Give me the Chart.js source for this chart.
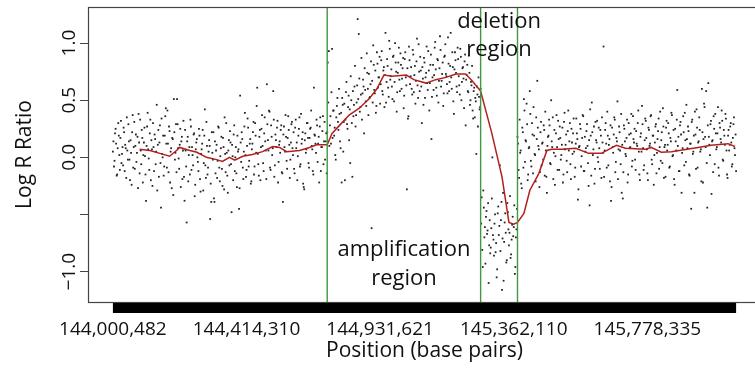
<!DOCTYPE html>
<html>
<head>
<meta charset="utf-8">
<script src="https://cdn.jsdelivr.net/npm/chart.js@4.4.0/dist/chart.umd.min.js"></script>
<style>
  html, body { margin: 0; padding: 0; background: #fff; overflow: hidden; }
</style>
</head>
<body>
<canvas id="lrrChart" width="765" height="375"></canvas>
<script>
// x axis is the probe index, labelled with genomic positions
var xTickIdx = [0, 250, 500, 750, 1000];
var xTickLabels = ["144,000,482", "144,414,310", "144,931,621", "145,362,110", "145,778,335"];
var yTickVals = [-1, -0.5, 0, 0.5, 1];
var yTickLabels = ["\u22121.0", "", "0.0", "0.5", "1.0"];

var lastProbe = 1166;
// breakpoints (probe index) of the amplified and deleted regions
var regionBounds = [401, 688, 757];

// log R ratio of the even-numbered probes
var normalLeft = [
  0.05, -0.08, 0.21, 0.12, -0.15, 0.30, 0.02, 0.17, -0.05, 0.09,
  0.26, -0.12, 0.08, 0.35, -0.02, 0.14, -0.20, 0.04, 0.22, -0.09,
  0.31, 0.10, -0.04, 0.18, 0.38, -0.14, 0.06, 0.24, -0.22, 0.13,
  0.01, -0.38, 0.27, 0.07, -0.11, 0.33, 0.15, -0.25, 0.09, 0.20,
  -0.06, 0.46, 0.11, -0.17, 0.28, -0.44, 0.03, 0.19, -0.08, 0.36,
  0.12, 0.41, -0.13, 0.23, 0.05, -0.27, 0.16, 0.51, -0.02, 0.29,
  0.51, 0.08, -0.10, 0.25, 0.14, -0.19, 0.32, -0.38, 0.06, -0.57,
  0.18, 0.02, -0.15, 0.27, 0.09, -0.07, 0.21, -0.24, 0.13, 0.00,
  -0.12, 0.19, -0.30, 0.07, 0.24, -0.05, 0.42, -0.18, 0.10, -0.09,
  0.15, -0.54, -0.39, 0.04, 0.22, -0.39, -0.14, 0.11, -0.03, 0.26,
  -0.21, 0.08, -0.10, 0.17, -0.28, 0.03, 0.30, -0.16, 0.06, -0.07,
  0.13, -0.48, 0.01, 0.20, -0.12, 0.09, -0.26, 0.05, -0.45, 0.54,
  -0.04, 0.16, -0.19, 0.27, 0.02, -0.11, 0.34, -0.08, 0.12, -0.23,
  0.07, 0.22, -0.15, 0.30, 0.04, 0.61, -0.06, 0.18, -0.20, 0.25,
  0.10, -0.12, 0.35, 0.06, 0.64, 0.15, 0.41, -0.09, 0.28, 0.02,
  0.58, -0.17, 0.20, 0.09, 0.32, -0.04, 0.14, 0.24, -0.13, -0.39,
  0.27, 0.05, 0.18, -0.10, 0.36, 0.11, -0.02, 0.29, 0.08, 0.22,
  -0.14, 0.33, 0.13, 0.01, 0.25, -0.08, 0.38, 0.16, -0.23, -0.28,
  0.21, 0.07, 0.30, -0.05, 0.17, 0.26, 0.10, -0.12, 0.61, 0.19,
  0.04, 0.28, 0.12, -0.22, 0.35, 0.09, 0.23, -0.06, 0.31, 0.14,
  -0.14
];
var amplified = [
  0.83, 0.93, 0.28, 0.12, 0.95, 0.41, 0.19, 0.02, 0.35, 0.52,
  0.24, 0.38, 0.08, -0.22, 0.46, 0.31, -0.20, 0.57, 0.29, 0.44,
  0.15, -0.05, 0.50, -0.17, 0.36, 0.62, 0.27, 0.48, 1.21, 1.08,
  0.40, 0.55, 0.33, 0.68, 0.21, 0.59, 0.45, 0.74, 0.37, 0.52,
  0.64, -0.62, 0.48, 0.81, 0.56, 0.39, 0.92, 0.61, 0.70, 0.47,
  0.85, 0.58, 0.76, 0.44, 1.09, 0.66, 0.80, 0.53, 0.95, 0.71,
  0.62, 0.88, 0.49, 1.00, 0.75, 0.57, 0.83, 0.68, 0.91, 0.60,
  0.78, 0.43, 0.86, 0.70, -0.28, 0.34, 0.97, 0.64, 0.79, 0.55,
  0.90, 0.72, 0.47, 0.84, 0.63, 0.99, 0.58, 0.76, 0.30, 0.69,
  0.87, 0.52, 0.74, 0.65, 0.93, 0.41, 0.81, 0.16, 0.70, 0.59,
  0.96, 0.77, 0.54, 0.85, 0.67, 1.06, 0.62, 0.73, 0.45, 0.88,
  0.99, 0.71, 0.56, 0.82, 0.66, 1.09, 0.60, 0.79, 0.38, 0.92,
  0.74, 0.57, 0.86, 0.63, 0.95, 0.50, 0.78, 0.69, 0.84, 0.28,
  0.72, 0.58, 0.89, 0.46, 0.66, 0.80, 0.34, 0.61, 0.52, 0.03,
  0.55, 0.70, 0.42, 0.60
];
var deleted = [
  -0.35, -0.96, -0.44, -0.61, -0.52, -0.67, -0.40, -0.77, -0.84, -0.62,
  0.00, -0.72, -0.58, -0.83, -1.05, -0.49, -0.68, -0.07, -0.55, -1.16,
  -0.31, -0.74, -0.49, -0.92, -0.40, -0.63, -0.66, -0.88, -0.72, -0.52,
  -0.61, -1.02, -0.70, -0.45
];
var normalRight = [
  0.12, -0.18, 0.04, -0.23, 0.26, -0.09, 0.41, 0.15, 0.47, -0.20,
  0.08, 0.58, -0.03, 0.30, -0.14, 0.19, 0.02, 0.35, 0.67, 0.10,
  -0.26, 0.22, -0.07, 0.13, 0.28, -0.16, 0.06, -0.31, 0.18, 0.33,
  -0.05, 0.50, 0.09, -0.19, 0.24, 0.01, 0.37, -0.11, 0.16, 0.27,
  -0.02, 0.11, -0.22, 0.31, 0.07, 0.20, -0.13, 0.41, 0.14, -0.06,
  0.25, 0.03, 0.34, -0.17, 0.12, 0.21, -0.37, 0.09, 0.29, -0.08,
  0.17, 0.36, -0.12, 0.05, 0.23, 0.10, -0.25, -0.42, 0.19, 0.48,
  0.02, 0.27, -0.10, 0.15, 0.32, -0.04, 0.08, 0.24, -0.18, 0.13,
  0.97, 0.06, 0.30, -0.09, 0.19, 0.11, -0.21, -0.38, 0.26, 0.04,
  0.35, -0.13, 0.17, 0.49, 0.07, 0.22, -0.06, -0.31, -0.36, 0.28,
  0.14, 0.01, 0.33, -0.15, 0.20, 0.09, 0.38, -0.03, 0.16, 0.25,
  -0.11, 0.12, 0.30, 0.05, -0.20, 0.21, 0.45, 0.08, -0.07, 0.34,
  0.17, -0.14, 0.26, 0.10, 0.36, -0.02, 0.19, -0.24, 0.13, 0.29,
  0.04, 0.23, -0.10, 0.40, 0.15, -0.05, 0.27, 0.09, -0.17, 0.32,
  0.11, 0.21, -0.08, 0.14, 0.37, 0.02, -0.19, 0.25, 0.06, 0.59,
  0.18, -0.12, 0.31, -0.31, 0.08, 0.22, 0.39, -0.04, 0.16, 0.27,
  -0.15, 0.12, -0.45, 0.33, 0.05, -0.31, 0.20, 0.42, -0.09, 0.14,
  0.24, 0.07, 0.60, -0.22, 0.47, 0.18, 0.58, -0.44, 0.65, 0.11,
  0.29, -0.32, 0.15, 0.36, -0.06, 0.21, 0.09, 0.44, -0.16, 0.26,
  0.13, 0.32, -0.03, 0.19, 0.38, 0.06, -0.18, 0.24, 0.11, 0.30,
  -0.08, 0.17, 0.35, 0.02, -0.12
];

// log R ratio of the odd-numbered probes
var normalLeftOdd = [
  0.14, -0.03, 0.25, -0.16, 0.08, 0.19, -0.11, 0.32, 0.03, -0.07,
  0.22, 0.11, -0.18, 0.06, 0.29, -0.02, 0.15, -0.24, 0.37, 0.09,
  -0.10, 0.20, 0.04, -0.27, 0.13, 0.33, -0.06, 0.17, 0.02, 0.26,
  -0.15, 0.10, 0.39, -0.01, 0.21, -0.20, 0.07, 0.30, -0.12, 0.16,
  0.05, -0.29, 0.24, 0.13, -0.05, 0.34, 0.00, -0.16, 0.19, 0.43,
  -0.09, 0.12, 0.27, -0.22, 0.08, 0.17, -0.33, 0.22, 0.04, -0.13,
  0.29, -0.01, 0.11, -0.26, 0.18, 0.06, -0.17, 0.24, -0.08, 0.14,
  -0.21, 0.09, 0.33, -0.11, 0.02, 0.20, -0.34, 0.07, 0.16, -0.04,
  0.25, -0.19, 0.03, 0.12, -0.29, 0.19, -0.07, 0.31, -0.15, 0.05,
  0.10, -0.23, 0.22, -0.02, -0.36, 0.14, 0.06, -0.18, 0.27, -0.09,
  0.01, 0.18, -0.25, 0.09, 0.35, -0.13, 0.04, -0.31, 0.15, 0.23,
  -0.06, 0.11, -0.20, 0.28, 0.00, -0.14, 0.19, 0.07, -0.27, 0.13,
  0.22, -0.09, 0.05, 0.39, -0.17, 0.10, 0.26, -0.03, 0.16, -0.21,
  0.12, 0.31, -0.08, 0.19, 0.45, 0.03, -0.16, 0.24, 0.09, 0.37,
  -0.05, 0.21, 0.14, -0.19, 0.29, 0.06, 0.40, -0.11, 0.18, 0.08,
  0.33, -0.07, 0.15, 0.26, -0.22, 0.11, 0.04, 0.28, -0.14, 0.20,
  0.09, 0.37, -0.03, 0.17, 0.24, -0.18, 0.13, 0.31, 0.02, -0.10,
  0.26, 0.08, -0.20, 0.19, 0.35, -0.06, 0.12, 0.22, -0.26, 0.15,
  0.04, 0.30, 0.17, -0.09, 0.25, 0.41, 0.07, -0.15, 0.20, 0.12,
  0.33, -0.04, 0.18, 0.27, -0.12, 0.09, 0.36, 0.14, -0.02, 0.21
];
var amplifiedOdd = [
  0.22, 0.48, 0.10, 0.36, 0.57, 0.17, 0.41, 0.26, -0.02, 0.45,
  0.31, 0.60, 0.14, 0.39, 0.52, 0.05, 0.47, 0.33, 0.66, 0.25,
  0.54, 0.42, 0.71, 0.30, 0.58, 0.46, 0.80, 0.37, 0.63, 0.51,
  0.69, 0.44, 0.87, 0.56, 0.62, 0.78, 0.49, 0.91, 0.60, 0.73,
  0.53, 0.84, 0.67, 0.98, 0.59, 0.76, 0.45, 0.82, 0.70, 0.88,
  0.64, 0.93, 0.55, 0.79, 0.72, 0.48, 0.86, 0.61, 1.02, 0.68,
  0.77, 0.51, 0.89, 0.66, 0.83, 0.40, 0.74, 0.96, 0.58, 0.81,
  0.69, 0.87, 0.54, 0.92, 0.63, 0.78, 0.36, 0.85, 0.71, 0.60,
  0.94, 0.57, 0.80, 0.67, 1.04, 0.52, 0.75, 0.88, 0.62, 0.79,
  0.46, 0.83, 0.70, 0.97, 0.59, 0.76, 0.65, 0.90, 0.53, 0.81,
  0.72, 1.01, 0.61, 0.86, 0.48, 0.78, 0.94, 0.67, 0.83, 0.56,
  0.89, 0.73, 0.64, 1.05, 0.58, 0.80, 0.70, 0.92, 0.49, 0.77,
  0.85, 0.62, 0.96, 0.71, 0.55, 0.88, 0.66, 0.79, 0.43, 0.90,
  0.68, 0.81, 0.57, 0.74, 0.50, 0.63, 0.41, 0.58, 0.35, 0.49,
  0.62, 0.27, 0.53, 0.44
];
var deletedOdd = [
  -0.58, -0.81, -0.29, -0.70, -0.93, -0.47, -0.64, -1.10, -0.55, -0.79,
  -0.36, -0.68, -0.86, -0.50, -0.75, -0.98, -0.43, -0.60, -0.82, -0.39,
  -0.71, -1.08, -0.57, -0.66, -0.90, -0.48, -0.77, -0.34, -0.85, -0.59,
  -0.69, -0.42, -0.96, -0.63
];
var normalRightOdd = [
  0.18, -0.11, 0.33, 0.06, -0.27, 0.22, 0.51, -0.04, 0.14, 0.29,
  -0.15, 0.09, 0.38, -0.08, 0.20, 0.44, 0.03, -0.21, 0.16, 0.26,
  0.07, -0.13, 0.31, 0.12, -0.02, 0.24, 0.40, -0.17, 0.10, 0.19,
  0.28, -0.06, 0.14, 0.35, 0.04, -0.24, 0.21, 0.09, 0.32, -0.11,
  0.17, 0.02, 0.26, -0.15, 0.39, 0.11, -0.03, 0.23, 0.06, 0.30,
  -0.19, 0.13, 0.21, 0.05, -0.09, 0.34, 0.16, -0.28, 0.10, 0.25,
  0.01, 0.37, -0.12, 0.18, 0.08, 0.29, -0.05, 0.15, 0.42, -0.16,
  0.22, 0.07, -0.23, 0.31, 0.13, 0.00, 0.26, -0.10, 0.19, 0.35,
  0.04, -0.17, 0.24, 0.12, 0.40, -0.07, 0.16, 0.28, -0.26, 0.09,
  0.20, 0.33, -0.04, 0.14, -0.19, 0.27, 0.06, 0.38, 0.11, -0.13,
  0.25, 0.03, 0.17, -0.22, 0.30, 0.08, 0.21, -0.08, 0.36, 0.13,
  -0.02, 0.23, 0.10, 0.41, -0.15, 0.18, 0.05, 0.29, -0.11, 0.15,
  0.32, 0.07, -0.20, 0.24, 0.12, 0.37, -0.06, 0.19, 0.02, 0.27,
  -0.14, 0.16, 0.34, 0.09, -0.03, 0.22, 0.43, -0.18, 0.11, 0.26,
  0.06, 0.30, -0.09, 0.17, 0.39, 0.01, 0.24, -0.24, 0.14, 0.33,
  0.10, -0.12, 0.28, 0.20, 0.04, 0.36, -0.07, 0.15, 0.46, 0.08,
  0.23, -0.16, 0.12, 0.31, 0.03, 0.19, 0.40, -0.10, 0.26, 0.13,
  0.35, 0.05, -0.21, 0.22, 0.16, 0.44, 0.09, -0.05, 0.28, 0.18,
  0.02, 0.32, 0.14, -0.13, 0.25, 0.38, 0.07, 0.21, -0.09, 0.30,
  0.16, 0.41, -0.02, 0.24, 0.11, 0.34, -0.15, 0.19, 0.06, 0.27,
  0.13, -0.06, 0.29, 0.08, 0.20
];

// smoothed (running median) curve
var smoothIdx = [50, 69, 88, 106, 119, 125, 144, 157, 175, 194, 205, 218, 228, 243, 261, 280, 299, 312, 325, 349,
  368, 381, 401, 410, 424, 442, 461, 479, 494, 507, 522, 549, 563, 586, 604, 623, 642, 660, 672, 688,
  709, 728, 741, 750, 757, 769, 780, 797, 812, 821, 840, 866, 890, 914, 942, 959, 996, 1007, 1026, 1045,
  1095, 1119, 1151, 1164];
var smoothVal = [0.07, 0.06, 0.035, 0.01, 0.06, 0.087, 0.06, 0.045, 0.0, -0.02, -0.035, 0.0, -0.025, 0.01, 0.025, 0.05, 0.095, 0.087, 0.05, 0.06,
  0.087, 0.11, 0.11, 0.21, 0.28, 0.37, 0.43, 0.51, 0.60, 0.72, 0.71, 0.72, 0.68, 0.65, 0.68, 0.70, 0.73, 0.73, 0.67, 0.58,
  0.21, -0.17, -0.57, -0.585, -0.57, -0.49, -0.29, -0.14, 0.06, 0.07, 0.07, 0.08, 0.035, 0.035, 0.105, 0.08, 0.07, 0.087, 0.045, 0.05,
  0.087, 0.105, 0.12, 0.095];

var regionNotes = [
  { lines: ["deletion", "region"], from: 1, to: 2, y: [1.187, 0.942] },
  { lines: ["amplification", "region"], from: 0, to: 1, y: [-0.81, -1.065] }
];

Chart.defaults.font.family = "'Open Sans', 'Noto Sans', sans-serif";
Chart.defaults.color = "#111";

var evenValues = normalLeft.concat(amplified, deleted, normalRight);
var oddValues = normalLeftOdd.concat(amplifiedOdd, deletedOdd, normalRightOdd);
var probePoints = evenValues.map(function (v, i) { return { x: 2 * i, y: v }; })
  .concat(oddValues.map(function (v, i) { return { x: 2 * i + 1, y: v }; }));
var smoothPoints = smoothIdx.map(function (x, i) { return { x: x, y: smoothVal[i] }; });

// frame, chromosome bar, region boundaries and notes
var decorations = {
  id: "decorations",
  afterDatasetsDraw: function (chart) {
    var c = chart.ctx, a = chart.chartArea, xs = chart.scales.x, ys = chart.scales.y;
    c.save();
    c.strokeStyle = "#3f9a3f";
    c.lineWidth = 1.4;
    regionBounds.forEach(function (b) {
      var px = xs.getPixelForValue(b);
      c.beginPath();
      c.moveTo(px, a.top);
      c.lineTo(px, a.bottom);
      c.stroke();
    });

    c.fillStyle = "#111";
    c.font = "22px 'Open Sans', sans-serif";
    c.textAlign = "center";
    c.textBaseline = "middle";
    regionNotes.forEach(function (n) {
      var mid = xs.getPixelForValue((regionBounds[n.from] + regionBounds[n.to]) / 2);
      n.lines.forEach(function (t, i) {
        c.fillText(t, mid, ys.getPixelForValue(n.y[i]));
      });
    });

    c.strokeStyle = "#444";
    c.lineWidth = 1.2;
    c.strokeRect(a.left + 0.5, a.top + 0.5, a.right - a.left, a.bottom - a.top);

    var x0 = xs.getPixelForValue(0), x1 = xs.getPixelForValue(lastProbe);
    c.fillStyle = "#000";
    c.fillRect(x0, a.bottom + 1, x1 - x0, 10);
    c.restore();
  }
};

var ctx = document.getElementById("lrrChart").getContext("2d");
var lrrChart = new Chart(ctx, {
  type: "scatter",
  data: {
    datasets: [{
      data: probePoints,
      pointStyle: "rect",
      pointRadius: 1.25,
      backgroundColor: "#222",
      borderWidth: 0,
      order: 2
    }, {
      data: smoothPoints,
      showLine: true,
      borderColor: "#b3201c",
      borderWidth: 1.5,
      pointRadius: 0,
      order: 1
    }]
  },
  options: {
    responsive: false,
    animation: false,
    layout: { padding: { top: 7, right: 2, left: 0, bottom: 0 } },
    plugins: { legend: { display: false }, tooltip: { enabled: false } },
    scales: {
      x: {
        type: "linear",
        min: -46.6,
        max: 1212.6,
        grid: { display: false },
        border: { display: false },
        afterBuildTicks: function (scale) {
          scale.ticks = xTickIdx.map(function (v) { return { value: v }; });
        },
        afterFit: function (scale) {
          scale.height = 73;
          scale.paddingLeft = 0;
          scale.paddingRight = 0;
        },
        ticks: {
          autoSkip: false,
          maxRotation: 0,
          padding: 8,
          font: { size: 19 },
          callback: function (value, index) { return xTickLabels[index]; }
        },
        title: {
          display: true,
          text: "Position (base pairs)",
          font: { size: 21 },
          padding: { top: 0, bottom: 11 }
        }
      },
      y: {
        min: -1.266,
        max: 1.316,
        grid: { drawOnChartArea: false, drawTicks: true, tickLength: 8, color: "#444" },
        border: { display: false },
        afterBuildTicks: function (scale) {
          scale.ticks = yTickVals.map(function (v) { return { value: v }; });
        },
        afterFit: function (scale) {
          scale.width = 88;
          scale.paddingTop = 0;
          scale.paddingBottom = 0;
        },
        ticks: {
          autoSkip: false,
          minRotation: 90,
          maxRotation: 90,
          crossAlign: "center",
          padding: -8,
          font: { size: 19 },
          callback: function (value, index) { return yTickLabels[index]; }
        },
        title: {
          display: true,
          text: "Log R Ratio",
          font: { size: 21 },
          padding: { top: 12, bottom: 0 }
        }
      }
    }
  },
  plugins: [decorations]
});
</script>
</body>
</html>
